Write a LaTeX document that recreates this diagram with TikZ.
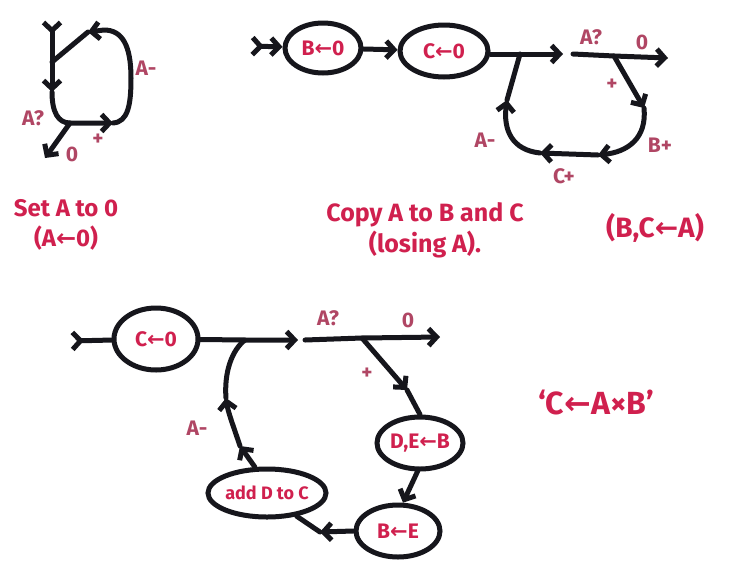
\documentclass[tikz,border=0pt]{standalone}
\usepackage{fontspec}
\setmainfont{Fira Sans}
\newfontfamily\symfont{DejaVu Sans}
\usetikzlibrary{arrows.meta,shapes.geometric}
\definecolor{inkred}{RGB}{208,32,78}
\definecolor{labred}{RGB}{176,70,100}
\definecolor{ink}{RGB}{22,22,28}
\newcommand{\lar}{{\symfont\bfseries ←}}
\tikzset{
  barb/.tip={Straight Barb[length=8pt,width=17pt]},
  rbarb/.tip={Straight Barb[length=8pt,width=17pt,reversed]},
  wire/.style={draw=ink,line width=5pt,line cap=round,line join=round},
  statebox/.style={ellipse,draw=ink,line width=5pt,text=inkred,inner sep=0pt,font=\fontsize{21}{24}\selectfont\bfseries},
  lab/.style={text=labred,font=\fontsize{21}{22}\selectfont\bfseries,inner sep=0pt},
  captext/.style={text=inkred,font=\fontsize{24}{30}\selectfont\bfseries,inner sep=0pt,align=center}
}
\begin{document}
\begin{tikzpicture}[x=1pt,y=-1pt]
\useasboundingbox[fill=white] (0,0) rectangle (733,568);

% ---------- diagram 1 ----------
\coordinate (t1) at (52,20);
\coordinate (j1) at (52,62);
\coordinate (a1) at (52,92);
\coordinate (q1) at (70,123);
\coordinate (b1) at (113,123);
\coordinate (top1) at (88,32);
\coordinate (o1) at (45,158);
\draw[wire,rbarb-barb] (t1) -- (j1) -- (a1);
\draw[wire,-barb] (a1) .. controls (52,112) and (58,123) .. (q1) -- (b1);
\draw[wire,-barb] (b1) .. controls (128,122) and (131,105) .. (131,78) .. controls (131,45) and (122,30) .. (104,30) -- (top1);
\draw[wire] (top1) -- (j1);
\draw[wire,-barb] (q1) -- (o1);
\node[lab] (l1a) at (146,68) {A-};
\node[lab] (l1b) at (33,118) {A?};
\node[lab] (l1c) at (72,154) {0};
\node[lab] (l1d) at (98,140) {+};
\node[captext] (c1) at (66,225) {Set A to 0\\(A\lar0)};

% ---------- diagram 2 ----------
\coordinate (t2) at (250,46);
\node[statebox,minimum width=76pt,minimum height=50pt] (B0) at (323,48) {B\lar0};
\node[statebox,minimum width=88pt,minimum height=52pt] (C0) at (444,51) {C\lar0};
\coordinate (j2) at (520,54);
\coordinate (a2) at (563,54);
\coordinate (d2) at (573,54);
\coordinate (p2) at (614,56);
\coordinate (o2) at (668,58);
\coordinate (pp2) at (644,108);
\coordinate (r2) at (598,155);
\coordinate (s2) at (540,153);
\coordinate (u2) at (507,100);
\draw[wire,rbarb-barb] (t2) -- (B0);
\draw[wire,-barb] (B0) -- (C0);
\draw[wire,-barb] (C0.east |- j2) -- (j2) -- (a2);
\draw[wire,-barb] (d2) -- (p2) -- (o2);
\draw[wire,-barb] (p2) -- (pp2);
\draw[wire,-barb] (pp2) .. controls (647,138) and (628,152) .. (r2);
\draw[wire,-barb] (r2) -- (s2);
\draw[wire,-barb] (s2) .. controls (512,150) and (503,130) .. (u2);
\draw[wire] (u2) -- (j2);
\node[lab] (l2a) at (591,37) {A?};
\node[lab] (l2b) at (642,42) {0};
\node[lab] (l2c) at (612,85) {+};
\node[lab] (l2d) at (660,145) {B+};
\node[lab] (l2e) at (564,176) {C+};
\node[lab] (l2f) at (485,140) {A-};
\node[captext,font=\fontsize{25}{31}\selectfont\bfseries] (c2) at (425,230) {Copy A to B and C\\(losing A).};
\node[captext,font=\fontsize{28}{30}\selectfont\bfseries] (c3) at (655,228) {(B,C\lar A)};

% ---------- diagram 3 ----------
\coordinate (t3) at (70,341);
\node[statebox,minimum width=84pt,minimum height=62pt] (C03) at (156,339) {C\lar0};
\coordinate (j3) at (245,340);
\coordinate (a3) at (298,340);
\coordinate (d3) at (305,340);
\coordinate (p3) at (362,338);
\coordinate (o3) at (440,337);
\coordinate (pp3) at (407,390);
\node[statebox,minimum width=86pt,minimum height=52pt] (DE) at (420,443) {D,E\lar B};
\node[statebox,minimum width=84pt,minimum height=52pt] (BE) at (398,531) {B\lar E};
\node[statebox,minimum width=106pt,minimum height=48pt,font=\fontsize{18}{20}\selectfont\bfseries] (AD) at (267,493) {add D to C};
\coordinate (m3) at (320,532);
\coordinate (v1) at (240,446);
\coordinate (v2) at (226,398);
\draw[wire,rbarb-] (t3) -- (C03);
\draw[wire,-barb] (C03) -- (j3) -- (a3);
\draw[wire,-barb] (d3) -- (p3) -- (o3);
\draw[wire,-barb] (p3) -- (pp3);
\draw[wire] (pp3) -- (DE.north);
\draw[wire,-barb] (DE.265) -- (BE.80);
\draw[wire,-barb] (BE.west) -- (m3);
\draw[wire] (m3) -- (AD.-38);
\draw[wire,-barb] (AD.115) -- (v1);
\draw[wire,-barb] (v1) .. controls (233,425) and (228,412) .. (v2);
\draw[wire] (v2) .. controls (224,372) and (232,350) .. (j3);
\node[lab] (l3a) at (328,318) {A?};
\node[lab] (l3b) at (408,320) {0};
\node[lab] (l3c) at (367,374) {+};
\node[lab] (l3d) at (197,428) {A-};
\node[captext,font=\fontsize{32}{34}\selectfont\bfseries] (c4) at (596,403) {‘C\lar A×B’};
\end{tikzpicture}
\end{document}
